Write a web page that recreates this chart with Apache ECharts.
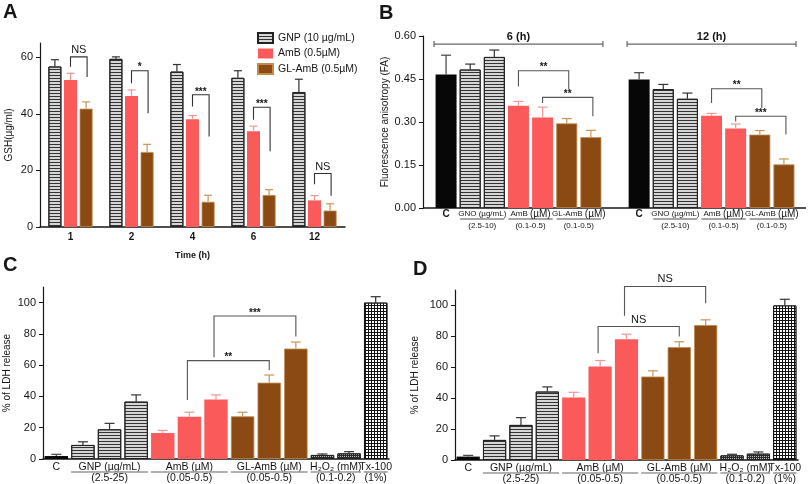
<!DOCTYPE html>
<html>
<head>
<meta charset="utf-8">
<title>GSH, fluorescence anisotropy and LDH release</title>
<script src="https://cdn.jsdelivr.net/npm/echarts@6/dist/echarts.min.js"></script>
<style>
html, body { margin: 0; padding: 0; background: #fff; }
#main { width: 810px; height: 484px; }
</style>
</head>
<body>
<div id="main"></div>
<script>
// ---------- A: GSH vs time ----------
var timeLabels = ['1', '2', '4', '6', '12'];
var gnpGsh = [56.7, 59.4, 54.9, 52.7, 47.7];
var gnpGshErr = [2.4, 0.7, 2.5, 2.5, 4.5];
var ambGsh = [51.9, 46.3, 38.1, 33.8, 9.4];
var ambGshErr = [2.4, 2.1, 1.3, 1.8, 1.7];
var glGsh = [41.8, 26.5, 8.9, 11.3, 5.8];
var glGshErr = [2.4, 2.7, 2.3, 1.9, 2.4];
// [from, to, top, left leg end, right leg end, text]
var sigA = [
    [0, 0, 60.1, 56.6, 53.0, 'NS'],
    [1, 1, 55.2, 50.8, 40.2, '*'],
    [2, 2, 46.7, 42.6, 32.0, '***'],
    [3, 3, 42.3, 37.9, 26.8, '***'],
    [4, 4, 18.9, 15.1, 11.0, 'NS']
];

// ---------- B: fluorescence anisotropy ----------
var faKinds = ['ctrl', 'gnp', 'gnp', 'amb', 'amb', 'gl', 'gl'];
var fa6h = [0.466, 0.483, 0.527, 0.357, 0.316, 0.295, 0.247];
var fa6hErr = [0.067, 0.019, 0.024, 0.015, 0.036, 0.017, 0.024];
var fa12h = [0.448, 0.415, 0.381, 0.322, 0.277, 0.256, 0.152];
var fa12hErr = [0.024, 0.016, 0.020, 0.008, 0.016, 0.014, 0.019];
var faTimes = ['6 (h)', '12 (h)'];
var faGroups = [
    [0, 0, '{c|C}', ''],
    [1, 2, 'GNO (µg/mL)', '(2.5-10)'],
    [3, 4, 'AmB {u|(µM)}', '(0.1-0.5)'],
    [5, 6, 'GL-AmB {u|(µM)}', '(0.1-0.5)']
];
var sigB = [
    [3, 5, 0.479, 0.424, 0.413, '**'],
    [4, 6, 0.386, 0.366, 0.320, '**'],
    [11, 13, 0.416, 0.366, 0.349, '**'],
    [12, 14, 0.320, 0.302, 0.256, '***']
];

// ---------- C / D: LDH release ----------
var ldhKinds = ['ctrl', 'gnp', 'gnp', 'gnp', 'amb', 'amb', 'amb', 'gl', 'gl', 'gl', 'h2o2', 'h2o2', 'tx'];
var ldhC = [1.9, 9, 19, 36.7, 16.6, 27, 38, 27.3, 48.8, 70.6, 2.6, 3.6, 100];
var ldhCErr = [1.1, 2, 3.8, 4.3, 1.7, 2.9, 3, 2.6, 4.9, 4.2, 0.6, 1.1, 3.8];
var ldhD = [2.2, 13, 22.7, 44.3, 40.4, 60.5, 78.2, 54, 73, 87.3, 3, 4.1, 100];
var ldhDErr = [0.8, 2.6, 4.7, 3, 3.4, 3.9, 3.2, 3.7, 3.5, 3.4, 0.7, 1.1, 4];
var ldhGroups = [
    [0, 0, 'C', ''],
    [1, 3, 'GNP (µg/mL)', '(2.5-25)'],
    [4, 6, 'AmB (µM)', '(0.05-0.5)'],
    [7, 9, 'GL-AmB (µM)', '(0.05-0.5)'],
    [10, 11, 'H₂O₂ (mM)', '(0.1-0.2)'],
    [12, 12, 'Tx-100', '(1%)']
];
var sigC = [
    [5, 8, 62.9, 37.7, 56.9, '**'],
    [6, 9, 91.5, 65.0, 78.3, '***']
];
var sigD = [
    [5, 8, 86.4, 69.1, 79.9, 'NS'],
    [6, 9, 112.3, 93.3, 101.5, 'NS']
];

// ---------- styles ----------
var FONT = '"Liberation Sans", Arial, Helvetica, sans-serif';
var INK = '#161616';
var gA = {left: 40, top: 43, width: 305, height: 184};
var gB = {left: 434, top: 36, width: 362, height: 172};
var gC = {left: 43, top: 287, width: 346, height: 172};
var gD = {left: 455, top: 290, width: 343, height: 170};
var barA = 13, gapA = 0.2, pitchA = barA * (1 + gapA);

var stripes = {symbol: 'rect', symbolSize: 1, dashArrayX: [1, 0], dashArrayY: [1, 2], color: '#333', rotation: 0};
var checks = {symbol: 'rect', symbolSize: 1, dashArrayX: [2, 1], dashArrayY: [2, 1], color: '#fff', rotation: 0};
var dots = {symbol: 'rect', symbolSize: 1, dashArrayX: [1, 1], dashArrayY: [1, 1], color: '#bbb', rotation: 0};

function barStyle(kind) {
    if (kind === 'gnp') return {color: '#d6d6d6', borderColor: '#222', borderWidth: 1, decal: stripes};
    if (kind === 'amb') return {color: '#fa5a5a'};
    if (kind === 'gl') return {color: '#8b4a13', borderColor: '#c28a4c', borderWidth: 0.8};
    if (kind === 'h2o2') return {color: '#2a2a2a', borderColor: '#222', borderWidth: 1, decal: dots};
    if (kind === 'tx') return {color: '#111', borderColor: '#111', borderWidth: 1, decal: checks};
    return {color: '#070707'};
}
var errColor = {gnp: '#333', amb: '#f29696', gl: '#c9955a', ctrl: '#444', h2o2: '#333', tx: '#333'};

function yAxisOf(grid, max, step, labels, name, gap, fmt, extra) {
    var ax = {
        gridIndex: grid, type: 'value', min: 0, max: max, interval: step,
        splitLine: {show: false},
        axisLine: {show: true, lineStyle: {color: INK, width: 1.2}},
        axisTick: {show: true, length: 4, lineStyle: {color: INK}, customValues: labels},
        axisLabel: {color: INK, fontSize: 11, fontFamily: FONT, margin: 7, customValues: labels,
            formatter: fmt || function (v) { return labels.indexOf(v) < 0 ? '' : v; }},
        name: name, nameLocation: 'middle', nameGap: gap, nameRotate: 90,
        nameTextStyle: {color: INK, fontSize: 10, fontFamily: FONT}
    };
    for (var k in extra) ax[k] = extra[k];
    return ax;
}

function errorSeries(axis, pts, colors, dx, cap) {
    return {
        type: 'custom', xAxisIndex: axis, yAxisIndex: axis, z: 5, silent: true,
        data: pts,
        renderItem: function (params, api) {
            var b = api.coord([api.value(0), api.value(1)]);
            var t = api.coord([api.value(0), api.value(2)]);
            var x = b[0] + dx;
            var st = {stroke: colors[params.dataIndex], lineWidth: 1.2};
            return {type: 'group', children: [
                {type: 'line', shape: {x1: x, y1: b[1], x2: x, y2: t[1]}, style: st},
                {type: 'line', shape: {x1: x - cap, y1: t[1], x2: x + cap, y2: t[1]}, style: st}
            ]};
        }
    };
}

function errPoints(vals, errs, kinds, shift) {
    var pts = [], cols = [];
    vals.forEach(function (v, i) {
        pts.push([i + (shift || 0), v, v + errs[i]]);
        cols.push(errColor[kinds[i]]);
    });
    return {pts: pts, cols: cols};
}

function sigSeries(axis, rows, dx0, dx1, color) {
    return {
        type: 'custom', xAxisIndex: axis, yAxisIndex: axis, z: 6, silent: true,
        data: rows.map(function (r) { return [r[0], r[2]]; }),
        renderItem: function (params, api) {
            var r = rows[params.dataIndex];
            var a = api.coord([r[0], r[2]]), b = api.coord([r[1], r[2]]);
            var x0 = a[0] + dx0, x1 = b[0] + dx1, y = a[1];
            var yl = api.coord([r[0], r[3]])[1], yr = api.coord([r[1], r[4]])[1];
            var star = r[5].charAt(0) === '*';
            return {type: 'group', children: [
                {type: 'polyline', shape: {points: [[x0, yl], [x0, y], [x1, y], [x1, yr]]},
                    style: {stroke: color, lineWidth: 1.1, fill: 'none'}},
                {type: 'text', style: {text: r[5], x: (x0 + x1) / 2, y: y - (star ? 3 : 7),
                    align: 'center', verticalAlign: 'middle', fill: INK,
                    fontFamily: FONT, fontSize: star ? 10 : 11, fontWeight: star ? 'bold' : 'normal'}}
            ]};
        }
    };
}

function groupLabelSeries(axis, groups, o) {
    return {
        type: 'custom', xAxisIndex: axis, yAxisIndex: axis, z: 6, silent: true,
        data: groups.map(function (g) { return [g[0], 0]; }),
        renderItem: function (params, api) {
            var g = groups[params.dataIndex];
            var band = api.size([1, 0])[0];
            var a = api.coord([g[0], 0]), b = api.coord([g[1], 0]);
            var y0 = a[1], cx = (a[0] + b[0]) / 2;
            var txt = {align: 'center', verticalAlign: 'middle', fill: INK, fontFamily: FONT,
                fontSize: o.size, rich: o.rich};
            var kids = [{type: 'text', style: Object.assign({text: g[2], x: cx, y: y0 + o.y1}, txt)}];
            if (g[3]) {
                kids.push({type: 'line', shape: {x1: a[0] - band / 2 + o.inset, y1: y0 + o.uy,
                    x2: b[0] + band / 2 - o.inset, y2: y0 + o.uy},
                    style: {stroke: o.ucolor, lineWidth: o.uw}});
                kids.push({type: 'text', style: Object.assign({text: g[3], x: cx, y: y0 + o.y2}, txt)});
            }
            return {type: 'group', children: kids};
        }
    };
}

function timeHeaderSeries(axis, spans, names, val) {
    return {
        type: 'custom', xAxisIndex: axis, yAxisIndex: axis, z: 6, silent: true,
        data: spans.map(function (s) { return [s[0], val]; }),
        renderItem: function (params, api) {
            var s = spans[params.dataIndex];
            var band = api.size([1, 0])[0];
            var a = api.coord([s[0], val]), b = api.coord([s[1], val]);
            var x0 = a[0] - band / 2, x1 = b[0] + band / 2, y = a[1];
            var st = {stroke: '#666', lineWidth: 1.2};
            return {type: 'group', children: [
                {type: 'line', shape: {x1: x0, y1: y, x2: x1, y2: y}, style: st},
                {type: 'line', shape: {x1: x0, y1: y - 3, x2: x0, y2: y + 3}, style: st},
                {type: 'line', shape: {x1: x1, y1: y - 3, x2: x1, y2: y + 3}, style: st},
                {type: 'text', style: {text: names[params.dataIndex], x: (x0 + x1) / 2, y: y - 7,
                    align: 'center', verticalAlign: 'middle', fill: INK, fontFamily: FONT,
                    fontSize: 11, fontWeight: 'bold'}}
            ]};
        }
    };
}

function catAxis(grid, n, showLine) {
    var cats = [];
    for (var i = 0; i < n; i++) cats.push(String(i));
    return {gridIndex: grid, type: 'category', data: cats,
        axisLine: {show: showLine, lineStyle: {color: INK, width: 1.5}},
        axisTick: {show: false}, axisLabel: {show: false}};
}

// ---------- build ----------
var faVals = fa6h.concat(['-'], fa12h);
var faAllKinds = faKinds.concat([''], faKinds);
var faBars = faVals.map(function (v, i) {
    return v === '-' ? '-' : {value: v, itemStyle: barStyle(faAllKinds[i])};
});
var eB6 = errPoints(fa6h, fa6hErr, faKinds, 0);
var eB12 = errPoints(fa12h, fa12hErr, faKinds, 8);
var faLabelRows = faGroups.concat(faGroups.map(function (g) { return [g[0] + 8, g[1] + 8, g[2], g[3]]; }));

function ldhBars(vals) {
    return vals.map(function (v, i) { return {value: v, itemStyle: barStyle(ldhKinds[i])}; });
}
var eC = errPoints(ldhC, ldhCErr, ldhKinds, 0);
var eD = errPoints(ldhD, ldhDErr, ldhKinds, 0);
var eA0 = errPoints(gnpGsh, gnpGshErr, ['gnp', 'gnp', 'gnp', 'gnp', 'gnp'], 0);
var eA1 = errPoints(ambGsh, ambGshErr, ['amb', 'amb', 'amb', 'amb', 'amb'], 0);
var eA2 = errPoints(glGsh, glGshErr, ['gl', 'gl', 'gl', 'gl', 'gl'], 0);

var ldhLabelOpt = {size: 10.5, y1: 8, uy: 13, y2: 19, inset: 1.5, ucolor: '#999', uw: 1.6};
var faLabelOpt = {size: 8, y1: 6, uy: 11, y2: 18, inset: 2, ucolor: '#222', uw: 0.8,
    rich: {u: {fontSize: 10, fontFamily: FONT, fill: INK}, c: {fontSize: 10, fontFamily: FONT, fill: INK, fontWeight: 'bold'}}};

var chart = echarts.init(document.getElementById('main'), null, {renderer: 'canvas'});
chart.setOption({
    animation: false,
    backgroundColor: '#fff',
    textStyle: {fontFamily: FONT},
    grid: [
        Object.assign({outerBoundsMode: 'none'}, gA),
        Object.assign({outerBoundsMode: 'none'}, gB),
        Object.assign({outerBoundsMode: 'none'}, gC),
        Object.assign({outerBoundsMode: 'none'}, gD)
    ],
    legend: {
        data: ['GNP (10 µg/mL)', 'AmB (0.5µM)', 'GL-AmB (0.5µM)'],
        orient: 'vertical', left: 252, top: 27, icon: 'rect',
        itemWidth: 15, itemHeight: 10, itemGap: 4,
        textStyle: {color: INK, fontSize: 10.5, fontFamily: FONT}
    },
    xAxis: [
        {gridIndex: 0, type: 'category', data: timeLabels,
            axisLine: {lineStyle: {color: INK, width: 1.5}}, axisTick: {show: false},
            axisLabel: {color: INK, fontSize: 10, fontWeight: 'bold', margin: 5, fontFamily: FONT},
            name: 'Time (h)', nameLocation: 'middle', nameGap: 24,
            nameTextStyle: {color: INK, fontSize: 9, fontWeight: 'bold', fontFamily: FONT}},
        catAxis(1, 15, false),
        catAxis(2, 13, true),
        catAxis(3, 13, true)
    ],
    yAxis: [
        yAxisOf(0, 65, 20, [0, 20, 40, 60], 'GSH(µg/ml)', 26),
        yAxisOf(1, 0.6, 0.15, [0, 0.15, 0.3, 0.45, 0.6], 'Fluorescence anisotropy (FA)', 33,
            function (v) { return v.toFixed(2); }, {offset: 11}),
        yAxisOf(2, 110, 20, [0, 20, 40, 60, 80, 100], '% of LDH release', 31),
        yAxisOf(3, 110, 20, [0, 20, 40, 60, 80, 100], '% of LDH release', 35)
    ],
    series: [
        {name: 'GNP (10 µg/mL)', type: 'bar', xAxisIndex: 0, yAxisIndex: 0, data: gnpGsh,
            barWidth: barA, barGap: (gapA * 100) + '%', itemStyle: barStyle('gnp')},
        {name: 'AmB (0.5µM)', type: 'bar', xAxisIndex: 0, yAxisIndex: 0, data: ambGsh,
            barWidth: barA, barGap: (gapA * 100) + '%', itemStyle: barStyle('amb')},
        {name: 'GL-AmB (0.5µM)', type: 'bar', xAxisIndex: 0, yAxisIndex: 0, data: glGsh,
            barWidth: barA, barGap: (gapA * 100) + '%', itemStyle: barStyle('gl')},
        errorSeries(0, eA0.pts, eA0.cols, -pitchA, 4),
        errorSeries(0, eA1.pts, eA1.cols, 0, 4),
        errorSeries(0, eA2.pts, eA2.cols, pitchA, 4),
        sigSeries(0, sigA, 0, pitchA + 1, '#333'),

        {type: 'bar', xAxisIndex: 1, yAxisIndex: 1, data: faBars, barCategoryGap: '13%'},
        errorSeries(1, eB6.pts, eB6.cols, 0, 5),
        errorSeries(1, eB12.pts, eB12.cols, 0, 5),
        sigSeries(1, sigB, 0, 2, '#555'),
        groupLabelSeries(1, faLabelRows, faLabelOpt),
        timeHeaderSeries(1, [[0, 6], [8, 14]], faTimes, 0.572),

        {type: 'bar', xAxisIndex: 2, yAxisIndex: 2, data: ldhBars(ldhC), barCategoryGap: '12%'},
        errorSeries(2, eC.pts, eC.cols, 0, 5),
        sigSeries(2, sigC, -2, 0, '#555'),
        groupLabelSeries(2, ldhGroups, ldhLabelOpt),

        {type: 'bar', xAxisIndex: 3, yAxisIndex: 3, data: ldhBars(ldhD), barCategoryGap: '12%'},
        errorSeries(3, eD.pts, eD.cols, 0, 5),
        sigSeries(3, sigD, -2, 0, '#555'),
        groupLabelSeries(3, ldhGroups, ldhLabelOpt)
    ],
    graphic: [
        {type: 'text', left: 3, top: 2, style: {text: 'A', font: 'bold 20px ' + FONT, fill: INK}},
        {type: 'text', left: 379, top: 3, style: {text: 'B', font: 'bold 20px ' + FONT, fill: INK}},
        {type: 'text', left: 3, top: 255, style: {text: 'C', font: 'bold 20px ' + FONT, fill: INK}},
        {type: 'text', left: 413, top: 259, style: {text: 'D', font: 'bold 20px ' + FONT, fill: INK}},
        // panel B x axis line runs from the offset y axis to the right edge
        {type: 'line', shape: {x1: gB.left - 11, y1: gB.top + gB.height, x2: gB.left + gB.width + 10, y2: gB.top + gB.height},
            style: {stroke: INK, lineWidth: 1.5}}
    ]
});
</script>
</body>
</html>
